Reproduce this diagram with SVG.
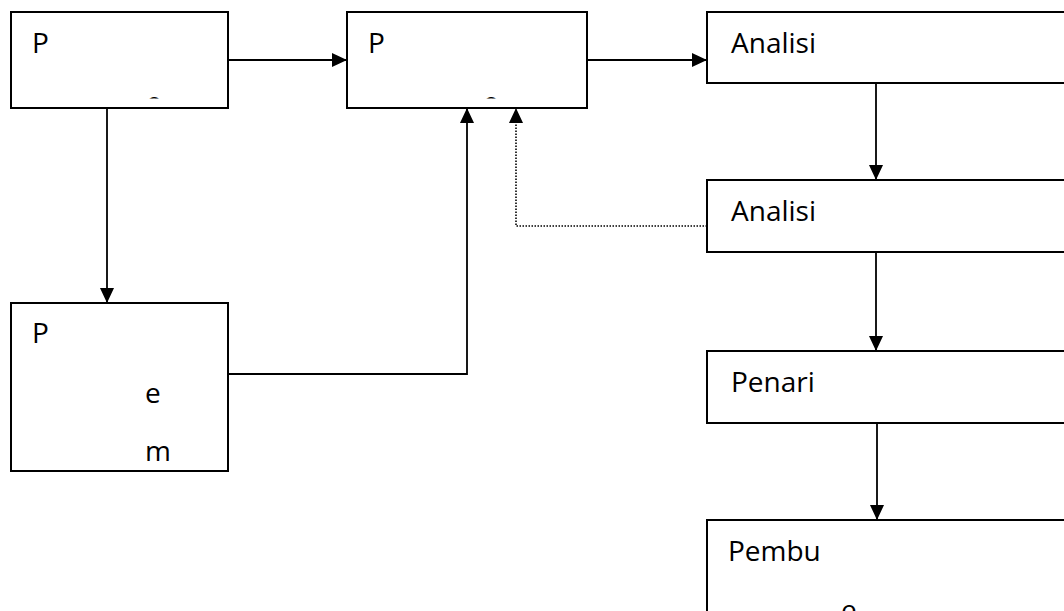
<svg xmlns="http://www.w3.org/2000/svg" width="1064" height="611" viewBox="0 0 1064 611">
  <style>
    .box { fill: #fff; stroke: #000; stroke-width: 2; }
    .lbl { font-family: "Open Sans", "Noto Sans", sans-serif; font-size: 28px; fill: #000; }
    .wire { fill: none; stroke: #000; stroke-width: 1.8; }
    .dot { fill: none; stroke: #000; stroke-width: 1.6; stroke-dasharray: 1.5 1.5; }
  </style>
  <defs>
    <marker id="arrow" viewBox="0 0 15 14" refX="15" refY="7" markerWidth="15" markerHeight="14" markerUnits="userSpaceOnUse" orient="auto">
      <path d="M0,0 L15,7 L0,14 Z" fill="#000"/>
    </marker>
    <!-- text that overflows these boxes is cut at the inner bottom -->
    <clipPath id="clipB1"><rect x="11" y="12" width="217" height="86.5"/></clipPath>
    <clipPath id="clipB2"><rect x="347" y="12" width="240" height="86.5"/></clipPath>
  </defs>

  <g id="connectors">
    <line class="wire" x1="228" y1="60" x2="347" y2="60" marker-end="url(#arrow)"/>
    <line class="wire" x1="587" y1="60" x2="707" y2="60" marker-end="url(#arrow)"/>
    <line class="wire" x1="107" y1="108" x2="107" y2="303" marker-end="url(#arrow)"/>
    <polyline class="wire" points="228,374 467,374 467,108" marker-end="url(#arrow)"/>
    <polyline class="dot" points="707,226 516,226 516,108" marker-end="url(#arrow)"/>
    <line class="wire" x1="876" y1="83" x2="876" y2="180" marker-end="url(#arrow)"/>
    <line class="wire" x1="876" y1="252" x2="876" y2="351" marker-end="url(#arrow)"/>
    <line class="wire" x1="877" y1="423" x2="877" y2="520" marker-end="url(#arrow)"/>
  </g>

  <g id="node-p1">
    <rect class="box" x="11" y="12" width="217" height="96"/>
    <text class="lbl" x="146" y="112" clip-path="url(#clipB1)">e</text>
    <text class="lbl" x="32" y="53">P</text>
  </g>

  <g id="node-p2">
    <rect class="box" x="347" y="12" width="240" height="96"/>
    <text class="lbl" x="368" y="53">P</text>
    <text class="lbl" x="483" y="112" clip-path="url(#clipB2)">e</text>
  </g>

  <g id="node-analisi-1">
    <rect class="box" x="707" y="12" width="400" height="71"/>
    <text class="lbl" x="731" y="53">Analisi</text>
  </g>

  <g id="node-analisi-2">
    <rect class="box" x="707" y="180" width="400" height="72"/>
    <text class="lbl" x="731" y="221">Analisi</text>
  </g>

  <g id="node-penari">
    <rect class="box" x="707" y="351" width="400" height="72"/>
    <text class="lbl" x="731" y="392">Penari</text>
  </g>

  <g id="node-pembu">
    <rect class="box" x="707" y="520" width="400" height="120"/>
    <text class="lbl" x="728" y="561">Pembu</text>
    <text class="lbl" x="841" y="620">e</text>
  </g>

  <g id="node-p3">
    <rect class="box" x="11" y="303" width="217" height="168"/>
    <text class="lbl" x="32" y="343">P</text>
    <text class="lbl" x="145" y="403">e</text>
    <text class="lbl" x="145" y="461">m</text>
  </g>
</svg>
